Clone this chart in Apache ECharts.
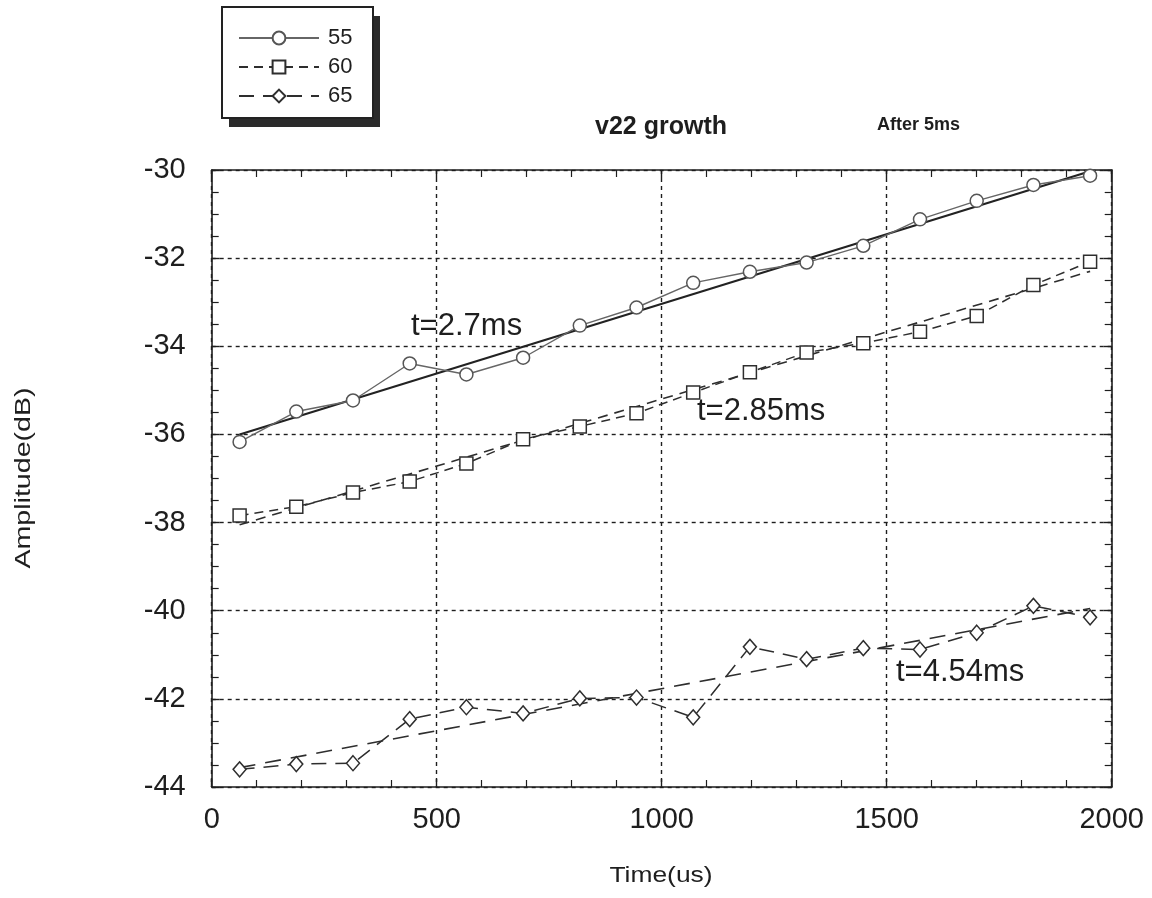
<!DOCTYPE html>
<html>
<head>
<meta charset="utf-8">
<script src="https://cdn.jsdelivr.net/npm/echarts@6/dist/echarts.min.js"></script>
<style>
  html, body { margin: 0; padding: 0; background: #fff; }
  #chart { width: 1152px; height: 898px; }
</style>
</head>
<body>
<div id="chart"></div>
<script>
// Sample times (us) shared by all three runs
const timeUs = [62, 188, 314, 440, 566, 692, 818, 944, 1070, 1196, 1322, 1448, 1574, 1700, 1826, 1952];

// Measured amplitudes (dB)
const amp55 = [-36.17, -35.48, -35.23, -34.39, -34.64, -34.26, -33.53, -33.12, -32.56, -32.31, -32.10, -31.72, -31.12, -30.70, -30.34, -30.13];
const amp60 = [-37.84, -37.64, -37.32, -37.07, -36.66, -36.11, -35.82, -35.52, -35.05, -34.59, -34.14, -33.93, -33.67, -33.31, -32.61, -32.08];
const amp65 = [-43.60, -43.48, -43.46, -42.46, -42.19, -42.33, -41.99, -41.97, -42.42, -40.82, -41.10, -40.85, -40.88, -40.50, -39.89, -40.15];

// Exponential growth fits (end points)
const fitTime = [62, 1952];
const fit55 = [-36.0, -30.03];
const fit60 = [-38.05, -32.3];
const fit65 = [-43.56, -39.95];

const seriesNames = ['55', '60', '65'];
const fitLabels = ['t=2.7ms', 't=2.85ms', 't=4.54ms'];

const FONT = '"Liberation Sans", Arial, sans-serif';
const INK = '#1e1e1e';

const pairs = (xs, ys) => xs.map((x, i) => [x, ys[i]]);
const plainNumber = (v) => String(v);

const chart = echarts.init(document.getElementById('chart'), null, { renderer: 'canvas' });

const axisCommon = {
  type: 'value',
  axisLine: { show: true, onZero: false, lineStyle: { color: INK, width: 1.6 } },
  axisTick: { show: true, inside: true, length: 8, lineStyle: { color: INK, width: 1.4 } },
  minorTick: { show: true, length: 7, lineStyle: { color: INK, width: 1.2 } },
  splitLine: { show: false }
};

const option = {
  backgroundColor: '#ffffff',
  animation: false,
  grid: { left: 211.7, right: 40.3, top: 170, bottom: 111, containLabel: false },
  legend: {
    data: seriesNames,
    orient: 'vertical',
    left: 238,
    top: 27,
    padding: 0,
    itemWidth: 80,
    itemHeight: 16,
    itemGap: 7,
    textStyle: { fontFamily: FONT, fontSize: 22, color: INK, padding: [0, 0, 0, 4] },
    z: 10
  },
  xAxis: [
    Object.assign({}, axisCommon, {
      position: 'bottom',
      min: 0, max: 2000, interval: 500,
      minorTick: Object.assign({}, axisCommon.minorTick, { splitNumber: 5 }),
      axisLabel: { show: true, margin: 18, fontFamily: FONT, fontSize: 29, color: INK, formatter: plainNumber },
      splitLine: { show: true, lineStyle: { color: INK, width: 1.4, type: [4, 4] } }
    }),
    Object.assign({}, axisCommon, {
      position: 'top',
      min: 0, max: 2000, interval: 500,
      minorTick: Object.assign({}, axisCommon.minorTick, { splitNumber: 5 }),
      axisLabel: { show: false }
    })
  ],
  yAxis: [
    Object.assign({}, axisCommon, {
      position: 'left',
      min: -44, max: -30, interval: 2,
      minorTick: Object.assign({}, axisCommon.minorTick, { splitNumber: 4 }),
      axisLabel: { show: true, margin: 26, fontFamily: FONT, fontSize: 29, color: INK, formatter: plainNumber },
      splitLine: { show: true, lineStyle: { color: INK, width: 1.4, type: [4, 4] } }
    }),
    Object.assign({}, axisCommon, {
      position: 'right',
      min: -44, max: -30, interval: 2,
      minorTick: Object.assign({}, axisCommon.minorTick, { splitNumber: 4 }),
      axisLabel: { show: false }
    })
  ],
  series: [
    {
      name: '55', type: 'line', data: pairs(timeUs, amp55),
      symbol: 'circle', symbolSize: 13, showSymbol: true,
      lineStyle: { color: '#666', width: 1.4 },
      itemStyle: { color: '#ffffff', borderColor: '#555', borderWidth: 1.5 },
      z: 3
    },
    {
      name: '60', type: 'line', data: pairs(timeUs, amp60),
      symbol: 'rect', symbolSize: 13,
      lineStyle: { color: '#2e2e2e', width: 1.5, type: [9, 6] },
      itemStyle: { color: '#ffffff', borderColor: '#2e2e2e', borderWidth: 1.5 },
      z: 3
    },
    {
      name: '65', type: 'line', data: pairs(timeUs, amp65),
      symbol: 'diamond', symbolSize: [13, 15],
      lineStyle: { color: '#2e2e2e', width: 1.5, type: [15, 9] },
      itemStyle: { color: '#ffffff', borderColor: '#2e2e2e', borderWidth: 1.5 },
      z: 3
    },
    {
      name: 'fit55', type: 'line', data: pairs(fitTime, fit55),
      symbol: 'none', lineStyle: { color: '#222', width: 2.2 }, z: 2
    },
    {
      name: 'fit60', type: 'line', data: pairs(fitTime, fit60),
      symbol: 'none', lineStyle: { color: '#2e2e2e', width: 1.6, type: [10, 7] }, z: 2
    },
    {
      name: 'fit65', type: 'line', data: pairs(fitTime, fit65),
      symbol: 'none', lineStyle: { color: '#2e2e2e', width: 1.6, type: [16, 10] }, z: 2
    }
  ],
  graphic: [
    // legend frame: dark offset block underneath, white framed box on top
    {
      type: 'rect', z: 1,
      shape: { x: 229, y: 16, width: 151, height: 111 },
      style: { fill: '#2b2b2b', stroke: null }
    },
    {
      type: 'rect', z: 2,
      shape: { x: 222, y: 7, width: 151, height: 111 },
      style: { fill: '#ffffff', stroke: '#222', lineWidth: 2 }
    },
    {
      type: 'text', z: 5,
      style: { text: 'v22 growth', x: 661, y: 127, textAlign: 'center', textVerticalAlign: 'middle',
               font: 'bold 25px ' + FONT, fill: INK }
    },
    {
      type: 'text', z: 5,
      style: { text: 'After 5ms', x: 877, y: 125, textAlign: 'left', textVerticalAlign: 'middle',
               font: 'bold 18px ' + FONT, fill: INK }
    },
    {
      type: 'text', z: 5,
      style: { text: fitLabels[0], x: 411, y: 326, textAlign: 'left', textVerticalAlign: 'middle',
               font: '31px ' + FONT, fill: INK }
    },
    {
      type: 'text', z: 5,
      style: { text: fitLabels[1], x: 697, y: 411, textAlign: 'left', textVerticalAlign: 'middle',
               font: '31px ' + FONT, fill: INK }
    },
    {
      type: 'text', z: 5,
      style: { text: fitLabels[2], x: 896, y: 672, textAlign: 'left', textVerticalAlign: 'middle',
               font: '31px ' + FONT, fill: INK }
    },
    // axis titles, drawn a little wider than their natural width
    {
      type: 'text', z: 5, x: 661, y: 876, scaleX: 1.2,
      style: { text: 'Time(us)', x: 0, y: 0, textAlign: 'center', textVerticalAlign: 'middle',
               font: '22px ' + FONT, fill: INK }
    },
    {
      type: 'text', z: 5, x: 24, y: 478, rotation: Math.PI / 2, scaleX: 1.3,
      style: { text: 'Amplitude(dB)', x: 0, y: 0, textAlign: 'center', textVerticalAlign: 'middle',
               font: '22px ' + FONT, fill: INK }
    }
  ]
};

chart.setOption(option);
</script>
</body>
</html>
